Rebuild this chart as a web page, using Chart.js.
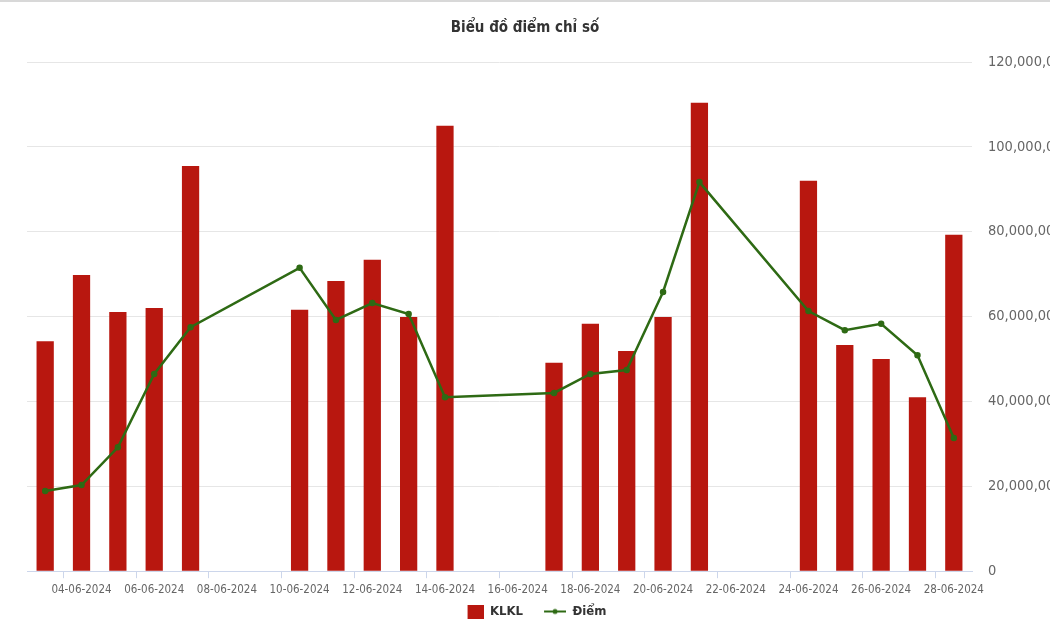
<!DOCTYPE html>
<html>
<head>
<meta charset="utf-8">
<script src="https://cdn.jsdelivr.net/npm/chart.js@4.4.1/dist/chart.umd.min.js"></script>
<style>
  html, body { margin: 0; padding: 0; background: #fff; overflow: hidden; }
  #wrap { position: relative; width: 1050px; height: 630px; border-top: 2px solid #d8d8d8; box-sizing: border-box; }
</style>
</head>
<body>
<div id="wrap"><canvas id="chart"></canvas></div>
<script>
// trading days, 03-06 .. 28-06 (weekends kept as empty slots)
const days = [
  '03-06-2024', '04-06-2024', '05-06-2024', '06-06-2024', '07-06-2024', '08-06-2024', '09-06-2024',
  '10-06-2024', '11-06-2024', '12-06-2024', '13-06-2024', '14-06-2024', '15-06-2024', '16-06-2024',
  '17-06-2024', '18-06-2024', '19-06-2024', '20-06-2024', '21-06-2024', '22-06-2024', '23-06-2024',
  '24-06-2024', '25-06-2024', '26-06-2024', '27-06-2024', '28-06-2024'
];
// KLKL (right axis)
const klkl = [
  54200000, 69800000, 61100000, 62000000, 95500000, null, null,
  61600000, 68400000, 73400000, 59900000, 105000000, null, null,
  49100000, 58300000, 51900000, 59900000, 110400000, null, null,
  92000000, 53300000, 50000000, 41000000, 79300000
];
// Điểm (left axis, its labels are cut off in the original)
const diem = [
  18.9, 20.3, 29.2, 46.5, 57.5, null, null,
  71.5, 59.2, 63.2, 60.6, 41.0, null, null,
  42.0, 46.5, 47.4, 65.8, 91.7, null, null,
  61.3, 56.8, 58.3, 50.9, 31.4
];
const rightTicks = [0, 20000000, 40000000, 60000000, 80000000, 100000000, 120000000];

const FONT = "'Liberation Sans Narrow', 'DejaVu Sans Condensed', 'Roboto', sans-serif";
const RED = '#b8170f';
const GREEN = '#2e6a14';

// legend symbols (drawn at the right of a wider box to leave a gap between items)
function makeSwatch(w, h, draw) {
  const c = document.createElement('canvas');
  c.width = w; c.height = h;
  draw(c.getContext('2d'));
  return c;
}
const SW = 40;
const barSwatch = makeSwatch(SW, 14, g => { g.fillStyle = RED; g.fillRect(SW - 16, 0, 16, 14); });
const lineSwatch = makeSwatch(SW, 8, g => {
  g.strokeStyle = GREEN; g.lineWidth = 2;
  g.beginPath(); g.moveTo(SW - 22, 4); g.lineTo(SW, 4); g.stroke();
  g.fillStyle = GREEN; g.beginPath(); g.arc(SW - 11, 4, 2.5, 0, Math.PI * 2); g.fill();
});

new Chart(document.getElementById('chart'), {
  data: {
    labels: days,
    datasets: [
      { type: 'bar', label: 'KLKL', data: klkl, yAxisID: 'yR', order: 2,
        backgroundColor: RED, barPercentage: 0.95, categoryPercentage: 0.5 },
      { type: 'line', label: 'Điểm', data: diem, yAxisID: 'yL', order: 1,
        borderColor: GREEN, backgroundColor: GREEN, borderWidth: 2.5,
        pointRadius: 2, pointHoverRadius: 3, spanGaps: true, tension: 0 }
    ]
  },
  options: {
    responsive: true, maintainAspectRatio: false, animation: false,
    layout: { padding: { left: 0, right: 0, top: 0, bottom: 2 } },
    plugins: {
      title: { display: true, text: 'Biểu đồ điểm chỉ số', color: '#333',
               font: { family: FONT, size: 15, weight: 'bold' }, padding: { top: 17, bottom: 25 } },
      legend: { position: 'bottom',
        labels: {
          usePointStyle: true, pointStyleWidth: SW, padding: 3, color: '#333',
          font: { family: FONT, size: 13, weight: 'bold' },
          generateLabels: chart => chart.data.datasets.map((ds, i) => ({
            text: ds.label, datasetIndex: i, hidden: false,
            fillStyle: ds.backgroundColor, strokeStyle: ds.backgroundColor, lineWidth: 0,
            pointStyle: ds.type === 'bar' ? barSwatch : lineSwatch, fontColor: '#333'
          }))
        } },
      tooltip: { enabled: false }
    },
    scales: {
      x: {
        grid: { drawOnChartArea: false, tickLength: 7,
                tickColor: ctx => ctx.index % 2 ? '#ccd6eb' : 'rgba(0,0,0,0)' },
        border: { color: '#ccd6eb' },
        ticks: { autoSkip: false, maxRotation: 0, color: '#666', padding: 5,
                 font: { family: FONT, size: 11.5 },
                 callback: (v, i) => i % 2 ? days[i] : '' }
      },
      yR: {
        position: 'right', min: 0, max: 120000000,
        afterBuildTicks: s => { s.ticks = rightTicks.map(v => ({ value: v })); },
        afterFit: s => { s.width = 78; },
        grid: { color: '#e6e6e6', drawTicks: false },
        border: { display: false },
        ticks: { color: '#666', padding: 16, font: { family: FONT, size: 14.5 },
                 callback: v => v.toLocaleString('en-US') }
      },
      yL: {
        position: 'left', min: 0, max: 120,
        afterFit: s => { s.width = 27; },
        grid: { display: false }, border: { display: false },
        ticks: { display: false }
      }
    }
  }
});
</script>
</body>
</html>
